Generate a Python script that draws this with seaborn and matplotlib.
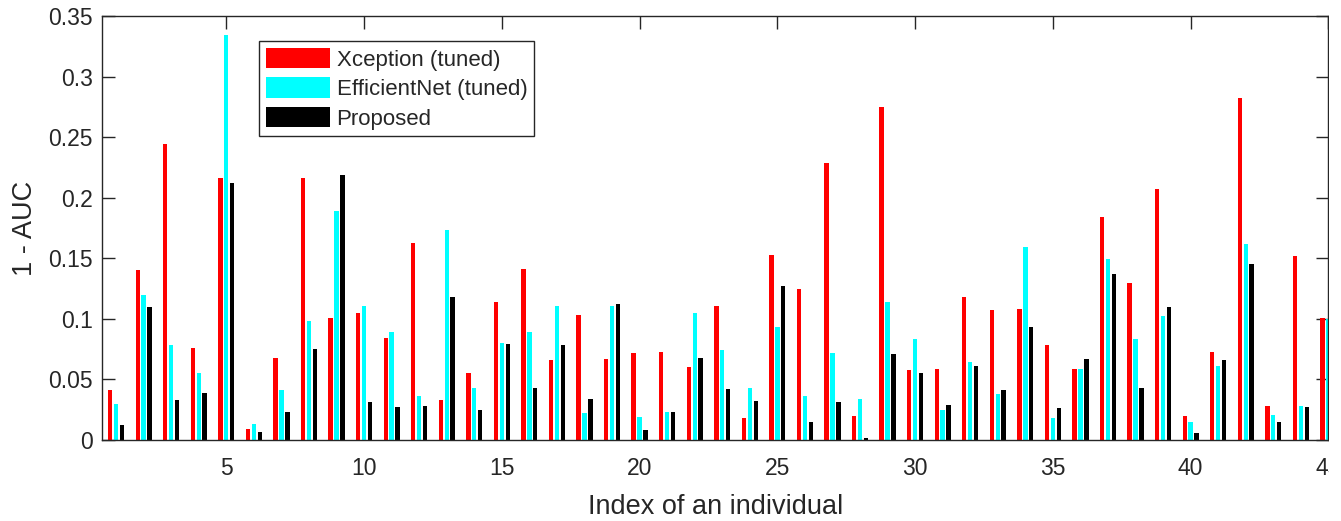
import numpy as np
import pandas as pd
import seaborn as sns
import matplotlib
matplotlib.use("Agg")
import matplotlib.pyplot as plt
from matplotlib.ticker import FormatStrFormatter
from matplotlib.patches import Rectangle

# 1 - AUC per individual
individuals = list(range(1, 46))
xception = [0.041, 0.140, 0.244, 0.076, 0.216, 0.009, 0.068, 0.216, 0.101, 0.105,
            0.084, 0.163, 0.033, 0.055, 0.114, 0.141, 0.066, 0.103, 0.067, 0.072,
            0.073, 0.060, 0.111, 0.018, 0.153, 0.125, 0.229, 0.020, 0.275, 0.058,
            0.059, 0.118, 0.107, 0.108, 0.078, 0.059, 0.184, 0.130, 0.207, 0.020,
            0.073, 0.282, 0.028, 0.152, 0.101]
efficientnet = [0.030, 0.120, 0.078, 0.055, 0.334, 0.013, 0.041, 0.098, 0.189, 0.111,
                0.089, 0.036, 0.173, 0.043, 0.080, 0.089, 0.111, 0.022, 0.111, 0.019,
                0.023, 0.105, 0.074, 0.043, 0.093, 0.036, 0.072, 0.034, 0.114, 0.083,
                0.025, 0.064, 0.038, 0.159, 0.018, 0.059, 0.149, 0.083, 0.102, 0.015,
                0.061, 0.162, 0.021, 0.028, 0.100]
proposed = [0.012, 0.110, 0.033, 0.039, 0.212, 0.007, 0.023, 0.075, 0.219, 0.031,
            0.027, 0.028, 0.118, 0.025, 0.079, 0.043, 0.078, 0.034, 0.112, 0.008,
            0.023, 0.068, 0.042, 0.032, 0.127, 0.015, 0.031, 0.002, 0.071, 0.055,
            0.029, 0.061, 0.041, 0.093, 0.026, 0.067, 0.137, 0.043, 0.110, 0.006,
            0.066, 0.145, 0.015, 0.027, np.nan]
methods = ["Xception (tuned)", "EfficientNet (tuned)", "Proposed"]
colors = ["#ff0000", "#00ffff", "#000000"]

df = pd.DataFrame({
    "idx": individuals * 3,
    "val": xception + efficientnet + proposed,
    "method": [methods[0]] * 45 + [methods[1]] * 45 + [methods[2]] * 45,
})

sns.set_style("ticks")
plt.rcParams["font.family"] = ["Liberation Sans", "DejaVu Sans"]
dark = "#262626"

fig = plt.figure(figsize=(13.41, 5.21), dpi=100)
ax = fig.add_axes([0.0763, 0.1555, 0.9143, 0.8138])

sns.barplot(data=df, x="idx", y="val", hue="method", hue_order=methods,
            palette=colors, native_scale=True, width=0.645, gap=0.26,
            errorbar=None, linewidth=0, saturation=1, ax=ax)

ax.set_xlim(0.5, 45)
ax.set_ylim(0, 0.35)
ax.set_xticks(range(5, 46, 5))
ax.set_yticks(np.arange(0, 0.351, 0.05))
ax.yaxis.set_major_formatter(FormatStrFormatter("%g"))
ax.tick_params(direction="in", top=True, right=True, length=9, width=1,
               colors=dark, labelsize=16.5)
ax.tick_params(axis="x", pad=12)
ax.tick_params(axis="y", pad=7)
for s in ax.spines.values():
    s.set_visible(True)
    s.set_color(dark)
    s.set_linewidth(1)

ax.set_xlabel("Index of an individual", fontsize=19.5, color=dark, labelpad=10)
ax.set_ylabel("1 - AUC", fontsize=19.5, color=dark, labelpad=7)

leg = ax.legend(loc="upper left", bbox_to_anchor=(0.128, 0.941), borderaxespad=0,
                fontsize=16, handlelength=2.9, handleheight=1.05,
                handletextpad=0.28, labelspacing=0.3, borderpad=0.3,
                fancybox=False, framealpha=1, edgecolor=dark)
leg.get_frame().set_linewidth(1)

# the source image is cropped just past the right spine
fig.add_artist(Rectangle((1329 / 1341, 0), 1, 1, transform=fig.transFigure,
                         facecolor="white", edgecolor="none", zorder=10))

fig.savefig("out.png", dpi=100)
